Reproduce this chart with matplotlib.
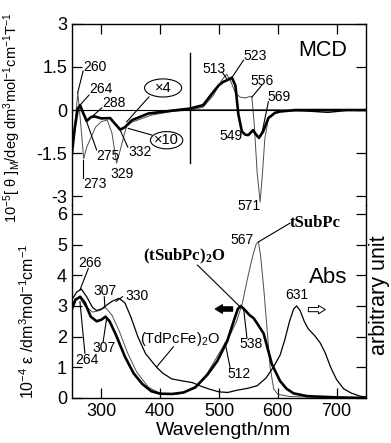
import numpy as np
import matplotlib
matplotlib.use('Agg')
import matplotlib.pyplot as plt
from matplotlib.patches import Ellipse

plt.rcParams['font.family'] = ['Liberation Sans', 'DejaVu Sans']
plt.rcParams['mathtext.fontset'] = 'custom'
plt.rcParams['mathtext.rm'] = 'Liberation Sans'
plt.rcParams['mathtext.it'] = 'Liberation Sans:italic'
plt.rcParams['mathtext.bf'] = 'Liberation Serif:bold'

# MCD: thick = (tSubPc)2O, thin = tSubPc, fe = (TdPcFe)2O
mcd_thick_wl = [250, 255, 260, 264, 268, 275, 282, 288, 300, 315, 322, 332, 340, 352, 380, 420, 450,
                473, 490, 500, 507, 515, 522, 528, 533, 539, 545, 550, 558, 563, 568, 575, 584, 595,
                604, 630, 750]
mcd_thick = [-1.5, -0.6, 0.05, 0.17, -0.05, -0.38, -0.25, -0.22, -0.29, -0.28, -0.45, -0.68, -0.6,
             -0.35, -0.12, -0.02, 0.05, 0.17, 0.62, 0.87, 0.98, 1.05, 1.13, 0.85, -0.15, -0.75,
             -0.86, -0.87, -0.7, -0.85, -0.97, -0.75, -0.28, -0.1, -0.05, 0.0, 0.0]
mcd_thin_wl = [250, 255, 260, 265, 270, 275, 290, 300, 310, 318, 326, 332, 343, 352, 386, 420, 450,
               473, 490, 505, 513, 520, 528, 536, 545, 553, 556, 560, 565, 570, 574, 578, 584, 595,
               610, 700, 750]
mcd_thin = [-1.6, -0.5, 0.6, -0.5, -1.7, -1.3, -0.6, -0.4, -0.35, -0.8, -1.85, -1.4, -0.55, -0.42,
            -0.17, -0.05, 0.0, 0.1, 0.5, 1.05, 1.25, 1.0, 0.6, 0.45, 0.42, 0.48, 0.45, -0.5, -2.2,
            -3.2, -2.2, -1.0, -0.3, -0.08, -0.03, 0.0, 0.0]
mcd_fe_wl = [450, 600, 640, 670, 685, 700, 720, 750]
mcd_fe = [0.0, 0.0, -0.02, -0.06, -0.08, -0.05, 0.0, 0.0]

# Abs
abs_dimer_wl = [250, 256, 264, 272, 282, 292, 300, 307, 314, 325, 340, 355, 370, 385, 400, 420, 440,
                460, 480, 497, 514, 525, 532, 537, 545, 552, 559, 566, 576, 582, 590, 604, 615, 627,
                650, 700, 750]
abs_dimer = [2.9, 3.2, 3.3, 3.1, 2.65, 2.5, 2.55, 2.65, 2.5, 2.05, 1.35, 0.8, 0.45, 0.22, 0.14, 0.13,
             0.18, 0.35, 0.75, 1.2, 1.85, 2.5, 2.9, 3.0, 2.85, 2.7, 2.6, 2.4, 2.1, 1.67, 1.1, 0.55,
             0.3, 0.15, 0.06, 0.02, 0.0]
abs_sub_wl = [250, 256, 264, 272, 285, 297, 307, 318, 330, 345, 360, 380, 400, 430, 460, 480, 500,
              512, 520, 530, 540, 548, 557, 563, 567, 571, 576, 582, 587, 593, 600, 620, 700, 750]
abs_sub = [3.0, 3.25, 3.25, 3.0, 2.8, 2.85, 2.95, 2.7, 2.2, 1.45, 0.85, 0.35, 0.15, 0.12, 0.35, 0.8,
           1.45, 1.85, 2.1, 2.5, 3.1, 3.85, 4.6, 5.0, 5.1, 4.6, 3.6, 2.2, 1.0, 0.3, 0.12, 0.05, 0.0,
           0.0]
abs_fe_wl = [250, 258, 266, 275, 285, 292, 300, 307, 318, 330, 340, 350, 362, 375, 394, 405, 420, 440,
             455, 470, 485, 500, 515, 530, 550, 565, 580, 593, 604, 612, 620, 627, 632, 638, 645,
             652, 662, 672, 680, 690, 700, 712, 725, 740, 750]
abs_fe = [3.2, 3.45, 3.55, 3.3, 2.95, 2.85, 2.9, 3.0, 3.15, 3.25, 3.1, 2.65, 2.0, 1.45, 1.0, 0.8,
          0.62, 0.55, 0.5, 0.38, 0.28, 0.2, 0.18, 0.25, 0.32, 0.4, 0.65, 1.02, 1.4, 1.9, 2.5, 2.9,
          3.0, 2.85, 2.5, 2.25, 2.05, 1.8, 1.5, 1.0, 0.6, 0.3, 0.16, 0.06, 0.03]

fig = plt.figure(figsize=(3.91, 4.43), dpi=100)
ax2 = fig.add_axes([0.184, 0.1016, 0.752, 0.4357])
ax1 = fig.add_axes([0.184, 0.537, 0.752, 0.409])
ax1.patch.set_alpha(0)

# ---- MCD panel ----
ax1.plot(mcd_thin_wl, mcd_thin, color='0.3', lw=0.7)
ax1.plot(mcd_fe_wl, mcd_fe, color='k', lw=1.0)
ax1.plot(mcd_thick_wl, mcd_thick, color='k', lw=1.9)
ax1.axhline(0, color='k', lw=0.8)
ax1.plot([450, 450], [-1.85, 2.0], color='k', lw=1.0)
ax1.set_xlim(250, 750)
ax1.set_ylim(-3.31, 3)
ax1.spines['bottom'].set_visible(False)
ax1.set_yticks([3, 1.5, 0, -1.5, -3])
ax1.set_yticklabels(['3', '1.5', '0', '-1.5', '-3'])
ax1.set_xticks([300, 400, 500, 600, 700])
ax1.tick_params(axis='both', direction='in', labelsize=13, length=7, width=0.9,
                top=True, bottom=False, labelbottom=False, right=True)
ax1.set_ylabel(r'10$^{-5}$[ θ ]$_{\rm M}$/deg dm$^3$mol$^{-1}$cm$^{-1}$T$^{-1}$', fontsize=10.5)
ax1.yaxis.set_label_coords(-0.165, 0.48)
ax1.text(677, 2.09, 'MCD', fontsize=15.5, ha='center', va='center')

mcd_labels = [
    ('260', 269, 1.5, 269, 1.36, 259.7, 0.6),
    ('264', 279, 0.73, 279, 0.52, 263.6, 0.17),
    ('288', 302, 0.24, 300.6, 0.07, 280.7, -0.29),
    ('275', 292, -1.6, 292, -1.39, 274, -0.35),
    ('273', 269, -2.58, 269, -2.37, 269, -1.74),
    ('329', 315, -2.23, None, None, None, None),
    ('332', 346, -1.46, 345, -1.29, 332, -0.7),
    ('513', 472, 1.43, 505, 1.33, 513, 1.1),
    ('523', 541, 1.88, 541.8, 1.74, 522, 1.13),
    ('556', 553, 1.0, 573, 0.87, 556, 0.45),
    ('569', 583, 0.44, 584, 0.29, 573, -0.81),
    ('549', 501, -0.9, None, None, None, None),
    ('571', 531, -3.34, None, None, None, None),
]
for txt, tx, ty, x0, y0, x1, y1 in mcd_labels:
    ax1.text(tx, ty, txt, fontsize=10, ha='left', va='center', clip_on=False)
    if x0 is not None:
        ax1.plot([x0, x1], [y0, y1], color='k', lw=0.8)

for txt, cx, cy, w, h, x0, y0, x1, y1 in [('×4', 405, 0.77, 63, 0.63, 381, 0.46, 343, -0.41),
                                          ('×10', 411, -1.05, 55, 0.6, 386, -0.87, 346, -0.64)]:
    ax1.add_patch(Ellipse((cx, cy), w, h, fill=False, lw=0.8, ec='k'))
    ax1.text(cx, cy, txt, fontsize=10.5, ha='center', va='center')
    ax1.plot([x0, x1], [y0, y1], color='k', lw=0.8)

# ---- Abs panel ----
ax2.plot(abs_sub_wl, abs_sub, color='0.3', lw=0.7)
ax2.plot(abs_fe_wl, abs_fe, color='k', lw=0.9)
ax2.plot(abs_dimer_wl, abs_dimer, color='k', lw=1.9)
ax2.set_xlim(250, 750)
ax2.set_ylim(0, 6.29)
ax2.spines['top'].set_visible(False)
ax2.set_yticks([0, 1, 2, 3, 4, 5, 6])
ax2.set_xticks([300, 400, 500, 600, 700])
ax2.tick_params(axis='both', direction='in', labelsize=13, length=7, width=0.9, right=True)
ax2.set_ylabel(r'10$^{-4}$ ε /dm$^3$mol$^{-1}$cm$^{-1}$', fontsize=11.5)
ax2.yaxis.set_label_coords(-0.12, 0.40)
ax2.set_xlabel('Wavelength/nm', fontsize=14)
ax2.xaxis.set_label_coords(0.517, -0.125)
fig.text(380 / 391, 1 - 295 / 443, 'arbitrary unit', rotation=90, fontsize=15.5,
         ha='center', va='center')
ax2.text(685, 3.94, 'Abs', fontsize=16, ha='center', va='center')

ax2.text(621, 5.7, 'tSubPc', fontsize=12, family='Liberation Serif', weight='bold',
         ha='left', va='center')
ax2.plot([621, 567.4], [5.7, 5.09], color='k', lw=0.8)
ax2.text(441, 4.6, r'$\mathbf{(tSubPc)_{2}O}$', fontsize=12, ha='center', va='center')
ax2.plot([463.6, 536], [4.33, 2.97], color='k', lw=0.8)
ax2.text(434, 1.92, r'(TdPcFe)$_{2}$O', fontsize=10.5, ha='center', va='center')
ax2.plot([422.6, 394.3], [1.67, 1.02], color='k', lw=0.8)

abs_labels = [
    ('567', 540, 5.15, None, None, None, None),
    ('538', 554, 1.76, 547.6, 1.95, 541.8, 2.93),
    ('512', 533.6, 0.78, 519, 0.98, 510.6, 1.79),
    ('266', 280.7, 4.41, 277.8, 4.22, 263.6, 3.52),
    ('307', 307, 3.49, 305, 3.3, 306, 2.97),
    ('330', 360, 3.32, 336, 3.3, 325, 3.15),
    ('307', 305, 1.63, 303, 1.83, 309, 2.6),
    ('264', 276, 1.24, 272, 1.46, 263.6, 3.14),
    ('631', 633, 3.35, None, None, None, None),
]
for txt, tx, ty, x0, y0, x1, y1 in abs_labels:
    ax2.text(tx, ty, txt, fontsize=10, ha='center', va='center')
    if x0 is not None:
        ax2.plot([x0, x1], [y0, y1], color='k', lw=0.8)

ax2.annotate('', xy=(494, 2.9), xytext=(523, 2.9),
             arrowprops=dict(arrowstyle='simple,head_length=0.5,head_width=0.6,tail_width=0.3',
                             fc='k', ec='k', shrinkA=0, shrinkB=0))
ax2.annotate('', xy=(681, 2.88), xytext=(652, 2.88),
             arrowprops=dict(arrowstyle='simple,head_length=0.5,head_width=0.6,tail_width=0.3',
                             fc='white', ec='k', lw=0.7, shrinkA=0, shrinkB=0))

for ax in (ax1, ax2):
    for s in ax.spines.values():
        s.set_linewidth(1.0)

plt.savefig('out.png', dpi=100)
